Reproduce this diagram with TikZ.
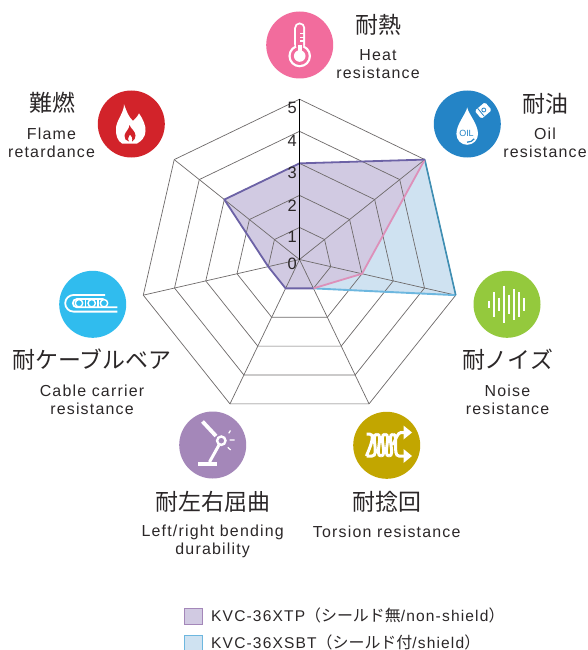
\documentclass[tikz,border=0pt]{standalone}
\usepackage{fontspec}
\setmainfont[LetterSpace=7.5]{Liberation Sans}
\newfontfamily\cjk{Noto Sans CJK JP}
\newfontfamily\numf{Liberation Sans}
\usetikzlibrary{calc}
\definecolor{ink}{HTML}{2B2728}
\definecolor{gridc}{HTML}{6E6A6A}
\definecolor{cpink}{HTML}{F26C9D}
\definecolor{cblue}{HTML}{2484C6}
\definecolor{cgreen}{HTML}{94C93D}
\definecolor{cgold}{HTML}{C2A600}
\definecolor{cviolet}{HTML}{A487B9}
\definecolor{ccyan}{HTML}{30BCEE}
\definecolor{cred}{HTML}{D2232A}
\definecolor{fillblue}{HTML}{CFE2F1}
\definecolor{fillviolet}{HTML}{D1CAE2}
\definecolor{lineviolet}{HTML}{6C62A6}
\definecolor{linepink}{HTML}{DD90B9}
\definecolor{lineblue}{HTML}{6DB7DF}
\definecolor{lineteal}{HTML}{3F8FB4}
\tikzset{
  badge/.style={circle,fill=#1,draw=none,minimum size=67bp,inner sep=0pt},
  jp/.style={text=ink,inner sep=0pt,font=\cjk\fontsize{23}{23}\selectfont},
  en/.style={text=ink,inner sep=0pt,font=\fontsize{16}{18}\selectfont,align=center},
  tick/.style={text=ink,inner sep=0pt,font=\numf\fontsize{16.5}{16}\selectfont},
  ring/.style={draw=gridc,line width=0.7bp},
  legendbox/.style={minimum width=18bp,minimum height=16bp,inner sep=0pt,line width=1.2bp},
  legendtext/.style={text=ink,inner sep=0pt,anchor=west,font=\fontsize{15.6}{18}\selectfont}
}
\newcommand{\lgjp}[1]{{\cjk\fontsize{16}{18}\selectfont #1}}
\begin{document}
\begin{tikzpicture}[x=1bp,y=-1bp]
\path[use as bounding box,fill=white] (0,0) rectangle (588,650);
\coordinate (c) at (299.5,259.5);
\foreach \k in {0,...,6}{
  \foreach \r in {1,...,5}{
    \coordinate (v\k-\r) at ({299.5+32.05*\r*cos(\k*360/7-90)},{259.5+32.05*\r*sin(\k*360/7-90)});
  }
}
% data fills
\fill[fillblue] (v0-3)--(v1-5)--(v2-5)--(v3-1)--(v4-1)--(v5-1)--(v6-3)--cycle;
\fill[fillviolet] (v0-3)--(v1-5)--(v2-2)--(v3-1)--(v4-1)--(v5-1)--(v6-3)--cycle;
% grid
\foreach \r in {1,...,5}{
  \draw[ring,line join=miter] (v0-\r)--(v1-\r)--(v2-\r)--(v3-\r)--(v4-\r)--(v5-\r)--(v6-\r)--cycle;
}
\foreach \k in {1,...,6}{ \draw[ring] (c)--(v\k-5); }
% data outlines
\draw[lineblue,line width=1.9bp] (v2-5)--(v3-1);
\draw[lineteal,line width=1.6bp] (v1-5)--(v2-5);
\draw[linepink,line width=1.8bp] (v1-5)--(v2-2)--(v3-1);
\draw[lineviolet,line width=1.8bp,line join=round] (v3-1)--(v4-1)--(v5-1)--(v6-3)--(v0-3)--(v1-5);
% axis
\draw[black,line width=1bp] (c)--(v0-5);
\node[tick] (t5) at (292.3,108) {5};
\node[tick] (t4) at (292.3,140.7) {4};
\node[tick] (t3) at (292.3,172.7) {3};
\node[tick] (t2) at (292.3,205.5) {2};
\node[tick] (t1) at (292.3,237) {1};
\node[tick] (t0) at (292.3,264) {0};
% badges
\node[badge=cpink] (heat) at (299.7,45) {};
\node[badge=cblue] (oil) at (467.3,124) {};
\node[badge=cgreen] (noise) at (507,304.3) {};
\node[badge=cgold] (torsion) at (386.7,445.3) {};
\node[badge=cviolet] (bend) at (212.7,445) {};
\node[badge=ccyan] (belt) at (92.7,304.3) {};
\node[badge=cred] (flame) at (131.3,124) {};
% labels
\node[jp] (lheat) at (378,25) {耐熱};
\node[en] (eheat) at (378,64) {Heat\\resistance};
\node[jp] (loil) at (545,104) {耐油};
\node[en] (eoil) at (545,143) {Oil\\resistance};
\node[jp] (lnoise) at (507.5,360) {耐ノイズ};
\node[en] (enoise) at (507.5,400) {Noise\\resistance};
\node[jp] (ltorsion) at (386.7,501.5) {耐捻回};
\node[en] (etorsion) at (386.7,532) {Torsion resistance};
\node[jp] (lbend) at (212.7,501.5) {耐左右屈曲};
\node[en] (ebend) at (212.7,541) {Left/right bending\\durability};
\node[jp] (lbelt) at (92,360) {耐ケーブルベア};
\node[en] (ebelt) at (92,400) {Cable carrier\\resistance};
\node[jp] (lflame) at (52,103) {難燃};
\node[en] (eflame) at (51.5,143) {Flame\\retardance};
% thermometer
\fill[white] (299.7,56) circle[radius=11.3];
\fill[white,rounded corners=5.4bp] (294.2,50) rectangle (305.2,22.5);
\fill[cpink] (299.7,56) circle[radius=9];
\fill[cpink,rounded corners=3.4bp] (296.2,50) rectangle (303.2,24.5);
\fill[white] (299.7,56) circle[radius=5.8];
\fill[white] (297.7,45) rectangle (301.7,52);
\draw[white,line width=1.2bp] (300,33.5)--(303.5,33.5) (300,37.2)--(303.5,37.2) (300,41)--(303.5,41);
% oil
\fill[white] (467.2,107.5) .. controls (468.5,114) and (478,124) .. (478,134) arc[start angle=0,end angle=180,radius=10.8] .. controls (456.4,124) and (466,114) .. cycle;
\node[text=cblue,inner sep=0pt,font=\numf\fontsize{9}{9}\selectfont] (oiltext) at (466.5,133.3) {OIL};
\draw[cblue,line width=1.2bp] (467,142.2) .. controls (470,142.2) and (473,141) .. (474.2,138.8);
\node[fill=white,rounded corners=1.6bp,minimum width=13.5bp,minimum height=10.5bp,inner sep=0pt,rotate=40] (bottle) at (483.2,110.5) {};
\draw[cblue,line width=0.8bp] (483.8,110) circle[radius=2];
\draw[cblue,line width=0.8bp] (477.6,108.3)--(484,116);
% noise
\foreach \x/\h in {489/3.6,494/12.2,499.3/6.6,504.3/18.8,509.3/9.8,514.3/15.5,519.3/12.2,524.3/6.5}{
  \draw[white,line width=2bp] (\x,304.3-\h)--(\x,304.3+\h);
}
% coil
\draw[white,line width=3bp]
  (366.5,434.2)--(370,434.2) .. controls (377,434.2) and (366,456) .. (366.5,456)
  (366.5,456)--(372,456) .. controls (380,456) and (370,434.2) .. (377,434.2)
  (377,434.2) .. controls (384,434.2) and (374,456) .. (381,456)
  (381,456) .. controls (388,456) and (378,434.2) .. (385,434.2)
  (385,434.2) .. controls (392,434.2) and (382,456) .. (389,456)
  (389,456) .. controls (396,456) and (386,434.2) .. (393,434.2)
  (393,434.2) .. controls (399,434.2) and (392,456) .. (399,456) -- (405,456)
  (393,445) .. controls (396,438) and (398,432.5) .. (401,432.5) -- (405,432.5);
\fill[white] (403.5,425.5)--(412,432.5)--(403.5,439.5)--cycle;
\fill[white] (403.5,449)--(412,456)--(403.5,463)--cycle;
% bending arm
\draw[white,line width=3.8bp] (202.5,421.5)--(216,436);
\draw[white,line width=3bp] (219,445)--(209.5,462);
\fill[white] (198,461.5) rectangle (217,465.8);
\draw[white,line width=2.4bp,fill=cviolet] (221.3,440.7) circle[radius=4.2];
\draw[white,line width=1.2bp] (228.7,433.3)--(230.5,430.5) (229.7,440)--(234.7,440) (227.7,447.3)--(230.7,450);
% conveyor
\draw[white,line width=1.8bp] (105,295)--(73.5,295) arc[start angle=-90,end angle=-270,radius=8.3] -- (117.3,311.6);
\draw[white,line width=1.8bp] (103.5,299)--(77,299) arc[start angle=-90,end angle=-270,radius=4.15] -- (117.3,307.3);
\foreach \x in {79,91.7,104}{ \draw[white,line width=1.4bp] (\x,303.2) circle[radius=3.7]; }
\draw[white,line width=1.4bp] (85.3,299.5)--(85.3,307) (98,299.5)--(98,307);
% flame
\fill[white] (124,104.3) .. controls (127,112) and (128,116) .. (133,121)
  .. controls (135,119) and (138,116) .. (139,113.3)
  .. controls (143,119) and (146,126) .. (145.5,131)
  .. controls (145.5,137) and (141,141.5) .. (137,143.5)
  -- (122,143.5)
  .. controls (117.5,141) and (115.5,135) .. (116,128)
  .. controls (116.5,120) and (124,113) .. (124,104.3) -- cycle;
\fill[cred] (129.5,125) .. controls (130,128) and (135.5,131) .. (135.5,135.5)
  .. controls (135.5,138) and (134.5,140) .. (132,141.5)
  .. controls (133,138) and (131.5,136) .. (130,134.5)
  .. controls (129.5,136) and (128,137) .. (128,139)
  .. controls (128,140) and (128.5,141) .. (129,141.5)
  .. controls (126,141) and (124,138.5) .. (124.5,135.5)
  .. controls (125,132) and (129.5,129) .. (129.5,125) -- cycle;
% legend
\node[legendbox,fill=fillviolet,draw=cviolet,anchor=north west] (key1) at (183.5,607.5) {};
\node[legendbox,fill=fillblue,draw=lineblue,anchor=north west] (key2) at (183.5,634.5) {};
\node[legendtext] (ltext1) at (211,615) {KVC-36XTP\lgjp{（シールド無}/non-shield\lgjp{）}};
\node[legendtext] (ltext2) at (211,642) {KVC-36XSBT\lgjp{（シールド付}/shield\lgjp{）}};
\end{tikzpicture}
\end{document}
